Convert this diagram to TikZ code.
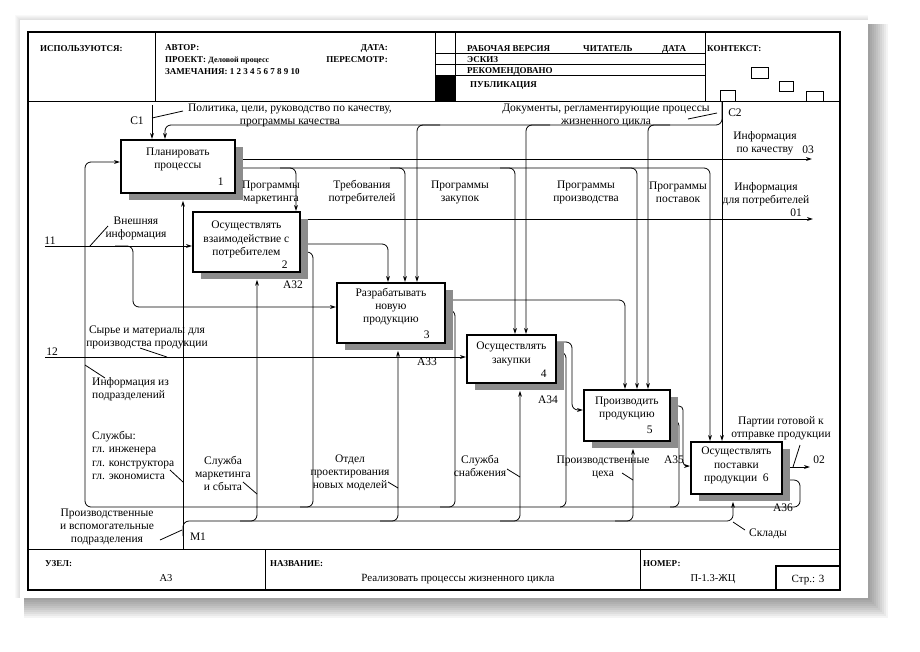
\documentclass[tikz,border=0pt]{standalone}
\usepackage{fontspec}
\setmainfont{Liberation Serif}
\usetikzlibrary{arrows.meta,calc,shadows}
\definecolor{shadowgray}{HTML}{8C8C8C}
\pgfdeclarelayer{paper}
\pgfdeclarelayer{bg}
\pgfsetlayers{paper,bg,main}
\begin{document}
\begin{tikzpicture}[x=1pt,y=-1pt,
  ln/.style={line width=0.8pt, rounded corners=6pt},
  arr/.style={ln, -{Stealth[length=6pt,width=3.8pt]}},
  frm/.style={line width=1.1pt},
  thinl/.style={line width=0.8pt},
  tick/.style={line width=0.8pt},
  box/.style={draw, line width=1.8pt, fill=white, inner sep=0pt, anchor=north west,
     drop shadow={shadow xshift=8pt, shadow yshift=-7pt, fill=shadowgray, opacity=1}},
  boxtxt/.style={font=\fontsize{11.5}{13.2}\selectfont, align=center, inner sep=0pt},
  lbl/.style={font=\fontsize{11.5}{13}\selectfont, align=center, inner sep=0pt},
  lbll/.style={font=\fontsize{11.5}{13.5}\selectfont, align=left, inner sep=0pt, anchor=north west},
  hdr/.style={font=\fontsize{9}{10}\selectfont\bfseries, inner sep=0pt, anchor=base west},
  ftv/.style={font=\fontsize{10.5}{12}\selectfont, inner sep=0pt, anchor=base},
]
\useasboundingbox (0,0) rectangle (920,651);
\begin{pgfonlayer}{paper}
  \fill[white] (0,0) rectangle (920,651);
  \foreach \d in {2,4,...,20} {
    \fill[black, opacity=0.045] (24,24) rectangle (868+\d,598+\d);
  }
  \foreach \d in {1,2,3,4,5} {
    \fill[black, opacity=0.025] (20-\d,20-\d) rectangle (868,598);
  }
  \fill[white] (20,20) rectangle (868,598);
\end{pgfonlayer}

% ---------- frame ----------
\draw[frm] (28,32) rectangle (840,590);
\draw[thinl] (28,101) -- (840,101);
\draw[thinl] (155,32) -- (155,101);
\draw[thinl] (435,32) -- (435,101);
\draw[thinl] (455,32) -- (455,101);
\draw[thinl] (705,32) -- (705,101);
\draw[thinl] (435,53) -- (705,53);
\draw[thinl] (435,64) -- (705,64);
\draw[thinl] (435,75) -- (705,75);
\fill[black] (435,76) rectangle (455,101);
\draw[thinl] (28,549) -- (840,549);
\draw[thinl] (265,549) -- (265,590);
\draw[thinl] (640,549) -- (640,590);
\draw[line width=1.2pt] (776,566) rectangle (840,590);

% context boxes
\draw[thinl] (751,67) rectangle (768,78);
\draw[thinl] (779,81) rectangle (793,91);
\draw[thinl] (720,90) rectangle (735,101);
\draw[thinl] (806,91) rectangle (823,101);

% header text
\node[hdr] at (40,51) {ИСПОЛЬЗУЮТСЯ:};
\node[hdr] at (165,50) {АВТОР:};
\node[hdr, anchor=base east] at (388,50) {ДАТА:};
\node[hdr] at (165,62) {ПРОЕКТ: {\fontsize{8}{9}\selectfont Деловой процесс}};
\node[hdr, anchor=base east] at (388,62) {ПЕРЕСМОТР:};
\node[hdr] at (165,74) {ЗАМЕЧАНИЯ: 1 2 3 4 5 6 7 8 9 10};
\node[hdr] at (467,51) {РАБОЧАЯ ВЕРСИЯ};
\node[hdr] at (583,51) {ЧИТАТЕЛЬ};
\node[hdr] at (662,51) {ДАТА};
\node[hdr] at (467,62) {ЭСКИЗ};
\node[hdr] at (467,73) {РЕКОМЕНДОВАНО};
\node[hdr] at (470,87) {ПУБЛИКАЦИЯ};
\node[hdr] at (707,51) {КОНТЕКСТ:};

% footer text
\node[hdr] at (45,566) {УЗЕЛ:};
\node[ftv] at (166,581) {А3};
\node[hdr] at (270,566) {НАЗВАНИЕ:};
\node[ftv, font=\fontsize{11}{12}\selectfont] at (458,581) {Реализовать процессы жизненного цикла};
\node[hdr] at (643,566) {НОМЕР:};
\node[ftv] at (713,581) {П-1.3-ЖЦ};
\node[ftv, font=\fontsize{11}{12}\selectfont] (pg) at (808,582) {Стр.: 3};

% ---------- boxes ----------
\node[box, minimum width=114pt, minimum height=53pt] (b1) at (120,139) {};
\node[box, minimum width=107pt, minimum height=60pt] (b2) at (192,211) {};
\node[box, minimum width=108pt, minimum height=60pt] (b3) at (336,282) {};
\node[box, minimum width=89pt, minimum height=48pt] (b4) at (466,334) {};
\node[box, minimum width=86pt, minimum height=51pt] (b5) at (583,389) {};
\node[box, minimum width=91pt, minimum height=52pt] (b6) at (690,441) {};

\node[boxtxt, anchor=north] at ($(b1.north)+(0,9)$) {Планировать\\процессы};
\node[boxtxt, anchor=base east] at ($(b1.south east)+(-12,-8)$) {1};
\node[boxtxt, anchor=north] at ($(b2.north)+(0,10)$) {Осуществлять\\взаимодействие с\\потребителем};
\node[boxtxt, anchor=base east] at ($(b2.south east)+(-13,-4)$) {2};
\node[boxtxt, anchor=north] at ($(b3.north)+(0,6)$) {Разрабатывать\\новую\\продукцию};
\node[boxtxt, anchor=base east] at ($(b3.south east)+(-16,-5)$) {3};
\node[boxtxt, anchor=north] at ($(b4.north)+(0,8)$) {Осуществлять\\закупки};
\node[boxtxt, anchor=base east] at ($(b4.south east)+(-10,-6)$) {4};
\node[boxtxt, anchor=north] at ($(b5.north)+(0,8)$) {Производить\\продукцию};
\node[boxtxt, anchor=base east] at ($(b5.south east)+(-18,-8)$) {5};
\node[boxtxt, anchor=north] at ($(b6.north)+(0,6)$) {Осуществлять\\поставки\\продукции\ \ 6};

% ---------- connectors ----------
\begin{pgfonlayer}{bg}
% controls
\coordinate (c1) at (152,105);
\draw[arr] (c1) -- ($(b1.north west)+(32,0)$);
\coordinate (c2) at (722,101);
\draw[arr] (c2) -- ($(b6.north west)+(32,0)$);
\draw[arr] (c2) -- (722,125) -- (165,125) -- ($(b1.north west)+(45,0)$);
\draw[arr] (440,125) -- (417,125) -- ($(b3.north west)+(81,0)$);
\draw[arr] (550,125) -- (526,125) -- ($(b4.north west)+(60,0)$);
\draw[arr] (670,125) -- (648,125) -- ($(b5.north west)+(65,0)$);
% outputs of 1
\coordinate (o3) at (812,159);
\draw[arr] ($(b1.north east)+(0,20)$) -- (o3);
\draw[arr] ($(b1.north east)+(0,29)$) -- (710,168) -- ($(b6.north west)+(20,0)$);
\draw[arr] (280,168) -- (296,168) -- ($(b2.north west)+(104,0)$);
\draw[arr] (390,168) -- (405,168) -- ($(b3.north west)+(69,0)$);
\draw[arr] (500,168) -- (515,168) -- ($(b4.north west)+(49,0)$);
\draw[arr] (620,168) -- (637,168) -- ($(b5.north west)+(54,0)$);
% outputs of 2
\coordinate (o1) at (813,219);
\draw[arr] ($(b2.north east)+(0,8)$) -- (o1);
\draw[arr] ($(b2.north east)+(0,33)$) -- (388,244) -- ($(b3.north west)+(52,0)$);
\draw[arr] ($(b2.north east)+(0,41)$) -- (313,252) -- (313,507) -- (85,507) -- (85,162) -- ($(b1.north west)+(0,23)$);
% outputs of 3
\draw[arr] ($(b3.north east)+(0,18)$) -- (625,300) -- ($(b5.north west)+(42,0)$);
\draw[ln] ($(b3.north east)+(0,28)$) -- (455,310) -- (455,507) -- (300,507);
% outputs of 4
\draw[arr] ($(b4.north east)+(0,8)$) -- (572,342) -- (572,410) -- ($(b5.north west)+(0,21)$);
\draw[ln] ($(b4.north east)+(0,18)$) -- (566,352) -- (566,507) -- (440,507);
% outputs of 5
\draw[arr, rounded corners=4pt] ($(b5.north east)+(0,17)$) -- (683,406) -- (683,466) -- ($(b6.north west)+(0,25)$);
\draw[ln] ($(b5.north east)+(0,31)$) -- (679,420) -- (679,507) -- (560,507);
% outputs of 6
\coordinate (o2) at (810,467);
\draw[arr] ($(b6.north east)+(0,26)$) -- (o2);
\draw[ln] ($(b6.north east)+(0,39)$) -- (800,480) -- (800,507) -- (670,507);
% inputs
\coordinate (i1) at (45,246);
\draw[arr] (i1) -- ($(b2.north west)+(0,35)$);
\draw[arr] (115,246) -- (133,246) -- (133,307) -- ($(b3.north west)+(0,25)$);
\coordinate (i2) at (45,357);
\draw[arr] (i2) -- ($(b4.north west)+(0,23)$);
% mechanisms
\coordinate (m1) at (183,549);
\draw[arr] (m1) -- ($(b1.south west)+(63,7)$);
\draw[arr] (183,536) -- (183,521) -- (733,521) -- ($(b6.south west)+(43,7)$);
\draw[arr] (240,521) -- (257,521) -- ($(b2.south west)+(65,7)$);
\draw[arr] (380,521) -- (398,521) -- ($(b3.south west)+(62,7)$);
\draw[arr] (500,521) -- (520,521) -- ($(b4.south west)+(54,7)$);
\draw[arr] (615,521) -- (633,521) -- ($(b5.south west)+(50,7)$);
\end{pgfonlayer}

% ---------- ticks ----------
\draw[tick] (152,118) -- (183,111);
\draw[tick] (688,119) -- (717,113);
\draw[tick] (90,246) -- (108,226);
\draw[tick] (140,348) -- (167,357);
\draw[tick] (85,365) -- (105,378);
\draw[tick] (170,470) -- (183,482);
\draw[tick] (160,540) -- (182,530);
\draw[tick] (243,482) -- (257,494);
\draw[tick] (388,482) -- (398,488);
\draw[tick] (507,469) -- (520,477);
\draw[tick] (622,473) -- (633,480);
\draw[tick] (793,467) -- (800,445);
\draw[tick] (733,522) -- (745,530);

% ---------- labels ----------
\node[lbl] at (137,121) {C1};
\node[lbl] at (735,113) {C2};
\node[lbl] at (290,115) {Политика, цели, руководство по качеству,\\программы качества};
\node[lbl] at (606,115) {Документы, регламентирующие процессы\\жизненного цикла};
\node[lbl] at (271,192) {Программы\\маркетинга};
\node[lbl] at (362,192) {Требования\\потребителей};
\node[lbl] at (460,192) {Программы\\закупок};
\node[lbl] at (586,192) {Программы\\производства};
\node[lbl] at (678,192) {Программы\\поставок};
\node[lbl] at (765,143) {Информация\\по качеству};
\node[lbl] at (808,150) {03};
\node[lbl] at (766,194) {Информация\\для потребителей};
\node[lbl] at (796,213) {01};
\node[lbl] at (136,228) {Внешняя\\информация};
\node[lbl] at (50,241) {11};
\node[lbl] at (52,352) {12};
\node[lbl] at (147,337) {Сырье и материалы для\\производства продукции};
\node[lbll] at (92,377) {Информация из\\подразделений};
\node[lbll] at (92,431) {Службы:\\гл. инженера\\гл. конструктора\\гл. экономиста};
\node[lbl] at (107,527) {Производственные\\и вспомогательные\\подразделения};
\node[lbl] at (198,537) {M1};
\node[lbl] at (223,473) {Служба\\маркетинга\\и сбыта};
\node[lbl] at (350,473) {Отдел\\проектирования\\новых моделей};
\node[lbl] at (480,466) {Служба\\снабжения};
\node[lbl] at (603,467) {Производственные\\цеха};
\node[lbl] at (674,460) {А35};
\node[lbl] at (781,428) {Партии готовой к\\отправке продукции};
\node[lbl] at (819,460) {02};
\node[lbl] at (768,534) {Склады};
\node[lbl] at (293,285) {А32};
\node[lbl] at (427,362) {А33};
\node[lbl] at (548,400) {А34};
\node[lbl] at (783,508) {А36};
\end{tikzpicture}
\end{document}
